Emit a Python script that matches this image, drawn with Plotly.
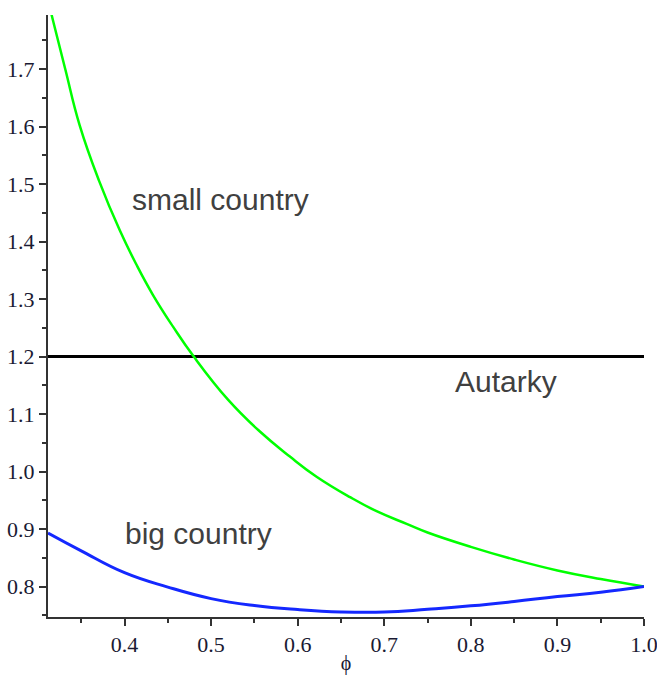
import plotly.graph_objects as go

# Data
phi_small = [0.3116, 0.3158, 0.3315, 0.3482, 0.3705, 0.3945, 0.4137, 0.4329, 0.456, 0.4799,
             0.5195, 0.556, 0.591, 0.6218, 0.6604, 0.6911, 0.7258, 0.75, 0.8, 0.85, 0.9, 0.95, 1.0]
small_country = [1.82, 1.794, 1.70, 1.602, 1.506, 1.4195, 1.360, 1.307, 1.252, 1.20,
                 1.125, 1.07, 1.026, 0.991, 0.9555, 0.931, 0.909, 0.894, 0.869, 0.847, 0.828, 0.813, 0.80]

phi_big = [0.3116, 0.35, 0.4, 0.45, 0.5, 0.55, 0.6, 0.65, 0.7, 0.75, 0.8, 0.85, 0.9, 0.95, 1.0]
big_country = [0.893, 0.862, 0.824, 0.799, 0.779, 0.767, 0.760, 0.7558, 0.7555, 0.7605,
               0.7664, 0.774, 0.7826, 0.790, 0.80]

phi_aut = [0.3116, 1.0]
autarky = [1.2, 1.2]

x_ticks = [0.4, 0.5, 0.6, 0.7, 0.8, 0.9, 1.0]
y_ticks = [0.8, 0.9, 1.0, 1.1, 1.2, 1.3, 1.4, 1.5, 1.6, 1.7]

labels = [
    ("small country", 0.511, 1.4725),
    ("Autarky", 0.8407, 1.156),
    ("big country", 0.486, 0.8916),
]

fig = go.Figure()
fig.add_trace(go.Scatter(x=phi_aut, y=autarky, mode="lines",
                         line=dict(color="black", width=3), hoverinfo="skip"))
fig.add_trace(go.Scatter(x=phi_small, y=small_country, mode="lines",
                         line=dict(color="rgb(0,255,0)", width=2.5, shape="spline", smoothing=1.3)))
fig.add_trace(go.Scatter(x=phi_big, y=big_country, mode="lines",
                         line=dict(color="rgb(20,40,255)", width=3, shape="spline", smoothing=1.3)))

for text, x, y in labels:
    fig.add_annotation(x=x, y=y, text=text, showarrow=False,
                       font=dict(family="Liberation Sans, Arial", size=30, color="#404040"),
                       xanchor="center", yanchor="middle")

axis_common = dict(
    showgrid=False, zeroline=False, showline=True, linecolor="#333333", linewidth=2,
    ticks="outside", ticklen=7, tickwidth=1.5, tickcolor="#333333",
    tickfont=dict(family="Liberation Serif, Times New Roman", size=22, color="#1a1a33"),
    tickformat=".1f", automargin=False, ticklabeloverflow="allow",
    minor=dict(ticks="outside", ticklen=4, tickwidth=1.5, tickcolor="#333333", dtick=0.05),
)

fig.update_xaxes(range=[0.3116, 1.0], tickvals=x_ticks,
                 title=dict(text="ϕ", font=dict(family="Liberation Serif, Times New Roman", size=20, color="#1a1a33"),
                            standoff=6),
                 **axis_common)
fig.update_yaxes(range=[0.747, 1.794], tickvals=y_ticks, **axis_common)

fig.update_layout(
    width=657, height=675,
    margin=dict(l=48, r=13, t=15, b=58),
    paper_bgcolor="white", plot_bgcolor="white",
    showlegend=False,
)

fig.write_html("out.html", config={"displayModeBar": False},
               post_script="document.body.style.margin='0';document.body.style.overflow='hidden';")
